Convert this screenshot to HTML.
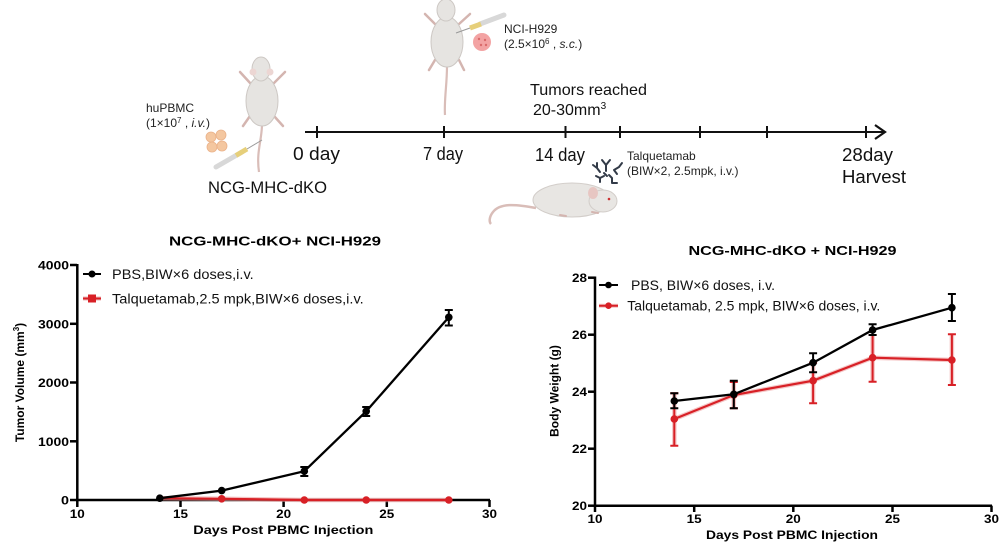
<!DOCTYPE html>
<html><head><meta charset="utf-8"><style>
html,body{margin:0;padding:0;background:#fff;}
svg{display:block;}
text{font-family:"Liberation Sans",Arial,sans-serif;}
.b{font-weight:bold;}
</style></head><body>
<svg width="1003" height="553" viewBox="0 0 1003 553" xmlns="http://www.w3.org/2000/svg">
<rect width="1003" height="553" fill="#fff"/>

<!-- ===== Top schematic ===== -->
<!-- timeline -->
<g stroke="#111" stroke-width="2" fill="none">
<line x1="305" y1="132" x2="884" y2="132"/>
<line x1="317" y1="126" x2="317" y2="138"/>
<line x1="444" y1="126" x2="444" y2="138"/>
<line x1="565.5" y1="126" x2="565.5" y2="138"/>
<line x1="620" y1="126" x2="620" y2="138"/>
<line x1="700" y1="126" x2="700" y2="138"/>
<line x1="767" y1="126" x2="767" y2="138"/>
<line x1="866" y1="126" x2="866" y2="138"/>
<polyline points="875,125 885,132 875,139" stroke-width="2.2"/>
</g>
<text x="293" y="160" font-size="18.5" fill="#111" textLength="47" lengthAdjust="spacingAndGlyphs">0 day</text>
<text x="423" y="160" font-size="18.5" fill="#111" textLength="40" lengthAdjust="spacingAndGlyphs">7 day</text>
<text x="535" y="161" font-size="18.5" fill="#111" textLength="50" lengthAdjust="spacingAndGlyphs">14 day</text>
<text x="842" y="161" font-size="18.5" fill="#111" textLength="51" lengthAdjust="spacingAndGlyphs">28day</text>
<text x="842" y="183" font-size="18.5" fill="#111" textLength="64" lengthAdjust="spacingAndGlyphs">Harvest</text>
<text x="208" y="193" font-size="17" fill="#111" textLength="119" lengthAdjust="spacingAndGlyphs">NCG-MHC-dKO</text>
<text x="530" y="95" font-size="16" fill="#111" textLength="117" lengthAdjust="spacingAndGlyphs">Tumors reached</text>
<text x="533" y="115" font-size="16" fill="#111">20-30mm<tspan font-size="10" dy="-6">3</tspan></text>
<text x="146" y="112" font-size="12" fill="#222">huPBMC</text>
<text x="146" y="127" font-size="12" fill="#222">(1×10<tspan font-size="8" dy="-4">7</tspan><tspan dy="4"> , </tspan><tspan font-style="italic">i.v.</tspan>)</text>
<text x="504" y="33" font-size="12" fill="#222">NCI-H929</text>
<text x="504" y="48" font-size="12" fill="#222">(2.5×10<tspan font-size="8" dy="-4">6</tspan><tspan dy="4"> , </tspan><tspan font-style="italic">s.c.</tspan>)</text>
<text x="627" y="160" font-size="12" fill="#222">Talquetamab</text>
<text x="627" y="175" font-size="12" fill="#222">(BIW×2, 2.5mpk, i.v.)</text>

<!-- Mouse 1 (top view) -->
<g>
<path d="M262,124 C262,140 256,152 259,172" stroke="#d9bdb8" stroke-width="2.2" fill="none"/>
<g stroke="#d4b5b0" stroke-width="2.5" stroke-linecap="round" fill="none">
<line x1="251" y1="84" x2="240" y2="72"/><line x1="273" y1="84" x2="285" y2="72"/>
<line x1="250" y1="116" x2="243" y2="126"/><line x1="274" y1="116" x2="283" y2="126"/>
</g>
<ellipse cx="262" cy="101" rx="16" ry="25" fill="#e6e4e1" stroke="#cdc8c4" stroke-width="1"/>
<ellipse cx="261" cy="69" rx="9" ry="12" fill="#e6e4e1" stroke="#cdc8c4" stroke-width="1"/>
<circle cx="253" cy="72" r="3.5" fill="#ecd6d3"/><circle cx="270" cy="72" r="3.5" fill="#ecd6d3"/>
<!-- syringe -->
<line x1="216" y1="167" x2="242" y2="152" stroke="#d8d8d8" stroke-width="5" stroke-linecap="round"/>
<line x1="236" y1="155.5" x2="247" y2="149" stroke="#e6cf7a" stroke-width="5"/>
<line x1="247" y1="149" x2="262" y2="140" stroke="#999" stroke-width="1"/>
<!-- cells -->
<g fill="#f4c7a0" stroke="#eab28a" stroke-width="0.8">
<circle cx="211" cy="137" r="5"/><circle cx="221" cy="135" r="5"/>
<circle cx="212" cy="147" r="5"/><circle cx="222" cy="146" r="5"/>
</g>
</g>

<!-- Mouse 2 (top view) -->
<g>
<path d="M447,66 C447,85 444,100 445,115" stroke="#d9bdb8" stroke-width="2.2" fill="none"/>
<g stroke="#d4b5b0" stroke-width="2.5" stroke-linecap="round" fill="none">
<line x1="435" y1="24" x2="425" y2="14"/><line x1="459" y1="24" x2="470" y2="14"/>
<line x1="435" y1="60" x2="429" y2="70"/><line x1="459" y1="60" x2="464" y2="70"/>
</g>
<ellipse cx="447" cy="42" rx="16" ry="25" fill="#e6e4e1" stroke="#cdc8c4" stroke-width="1"/>
<ellipse cx="446" cy="10" rx="9" ry="11" fill="#e6e4e1" stroke="#cdc8c4" stroke-width="1"/>
<line x1="480" y1="24" x2="504" y2="15" stroke="#d8d8d8" stroke-width="5" stroke-linecap="round"/>
<line x1="470" y1="28" x2="481" y2="24" stroke="#e6cf7a" stroke-width="5"/>
<line x1="456" y1="33" x2="470" y2="28" stroke="#999" stroke-width="1"/>
<circle cx="482" cy="42" r="9" fill="#f3a3a3"/>
<g fill="#d96a6a"><circle cx="479" cy="39" r="1.2"/><circle cx="485" cy="40" r="1.2"/><circle cx="481" cy="45" r="1.2"/><circle cx="486" cy="45" r="1.2"/></g>
</g>

<!-- Mouse 3 (side view) -->
<g>
<path d="M536,208 C515,204 500,203 493,212 C489,217 489,222 491,224" stroke="#d9bdb8" stroke-width="2.5" fill="none"/>
<ellipse cx="572" cy="200" rx="39" ry="17" fill="#e8e6e3" stroke="#d2cdc9" stroke-width="1"/>
<ellipse cx="603" cy="201" rx="14" ry="11" fill="#e8e6e3" stroke="#d2cdc9" stroke-width="1"/>
<ellipse cx="593" cy="193" rx="5" ry="6" fill="#e7c6c2"/>
<circle cx="609" cy="199" r="1.3" fill="#c33"/>
<g stroke="#d4b5b0" stroke-width="2" stroke-linecap="round"><line x1="560" y1="215" x2="566" y2="216"/><line x1="592" y1="212" x2="598" y2="213"/></g>
</g>
<!-- antibodies -->
<g stroke="#333b48" stroke-width="2" fill="none" stroke-linecap="round">
<path d="M606,165 L606,171 M606,165 L602,160 M606,165 L610,160"/>
<path d="M597,168 L600,172 M597,168 L593,165 M597,168 L597,163"/>
<path d="M614,170 L619,167 M614,170 L617,174 M619,167 L622,163"/>
<path d="M600,178 L604,176 M600,178 L596,176 M600,178 L600,182"/>
<path d="M612,178 L612,183 M612,178 L609,175 M612,183 L617,183"/>
<path d="M604,173 L607,176"/>
</g>

<!-- ===== Left chart ===== -->
<text x="275" y="245.5" font-size="13" class="b" text-anchor="middle" textLength="212" lengthAdjust="spacingAndGlyphs" fill="#000">NCG-MHC-dKO+ NCI-H929</text>
<g stroke="#000" stroke-width="2.5" fill="none">
<line x1="77.3" y1="264" x2="77.3" y2="501.2"/>
<line x1="76" y1="500" x2="490" y2="500"/>
<line x1="70" y1="265" x2="77" y2="265"/>
<line x1="70" y1="323.8" x2="77" y2="323.8"/>
<line x1="70" y1="382.5" x2="77" y2="382.5"/>
<line x1="70" y1="441.3" x2="77" y2="441.3"/>
<line x1="70" y1="500" x2="77" y2="500"/>
<line x1="77.3" y1="500" x2="77.3" y2="507"/>
<line x1="180.5" y1="500" x2="180.5" y2="507"/>
<line x1="283.6" y1="500" x2="283.6" y2="507"/>
<line x1="386.8" y1="500" x2="386.8" y2="507"/>
<line x1="489.5" y1="500" x2="489.5" y2="507"/>
</g>
<g font-size="11.5" class="b" text-anchor="end" fill="#000">
<text x="69" y="269.5" textLength="31" lengthAdjust="spacingAndGlyphs">4000</text>
<text x="69" y="328.3" textLength="31" lengthAdjust="spacingAndGlyphs">3000</text>
<text x="69" y="387" textLength="31" lengthAdjust="spacingAndGlyphs">2000</text>
<text x="69" y="445.8" textLength="31" lengthAdjust="spacingAndGlyphs">1000</text>
<text x="69" y="504.5" textLength="8" lengthAdjust="spacingAndGlyphs">0</text>
</g>
<g font-size="11.5" class="b" text-anchor="middle" fill="#000">
<text x="77.3" y="518" textLength="15" lengthAdjust="spacingAndGlyphs">10</text>
<text x="180.5" y="518" textLength="15" lengthAdjust="spacingAndGlyphs">15</text>
<text x="283.6" y="518" textLength="15" lengthAdjust="spacingAndGlyphs">20</text>
<text x="386.8" y="518" textLength="15" lengthAdjust="spacingAndGlyphs">25</text>
<text x="489.5" y="518" textLength="15" lengthAdjust="spacingAndGlyphs">30</text>
</g>
<text x="283.3" y="534" font-size="12" class="b" text-anchor="middle" textLength="180" lengthAdjust="spacingAndGlyphs" fill="#000">Days Post PBMC Injection</text>
<text transform="translate(24,382.5) rotate(-90)" font-size="12" class="b" text-anchor="middle" fill="#000">Tumor Volume (mm<tspan font-size="8" dy="-5">3</tspan><tspan dy="5">)</tspan></text>
<!-- legend -->
<line x1="83" y1="274" x2="101" y2="274" stroke="#000" stroke-width="2"/>
<circle cx="92" cy="274" r="3.5" fill="#000"/>
<text x="112" y="279" font-size="13.5" textLength="141.7" lengthAdjust="spacingAndGlyphs" fill="#111">PBS,BIW×6 doses,i.v.</text>
<line x1="83" y1="298.5" x2="101" y2="298.5" stroke="#e08a8a" stroke-width="4" opacity="0.6"/>
<line x1="83" y1="298.5" x2="101" y2="298.5" stroke="#d82026" stroke-width="2"/>
<rect x="88" y="294.5" width="8" height="8" fill="#d82026"/>
<text x="112" y="303.5" font-size="13.5" textLength="251.7" lengthAdjust="spacingAndGlyphs" fill="#111">Talquetamab,2.5 mpk,BIW×6 doses,i.v.</text>
<!-- red series -->
<polyline points="159.8,498.2 221.7,498.8 304.3,500 366.2,500 448.8,500" stroke="#ec9a9a" stroke-width="4.5" fill="none" opacity="0.6"/>
<polyline points="159.8,498.2 221.7,498.8 304.3,500 366.2,500 448.8,500" stroke="#d82026" stroke-width="2.2" fill="none"/>
<g fill="#d82026">
<circle cx="221.7" cy="498.8" r="3.8"/><circle cx="304.3" cy="500" r="3.8"/><circle cx="366.2" cy="500" r="3.8"/><circle cx="448.8" cy="500" r="3.8"/>
</g>
<!-- black series -->
<polyline points="159.8,498.2 221.7,490.6 304.3,471.2 366.2,411.3 448.8,317.3" stroke="#000" stroke-width="2.3" fill="none"/>
<g stroke="#000" stroke-width="2" fill="none">
<path d="M300.3,467 H308.3 M304.3,467 V476 M300.3,476 H308.3"/>
<path d="M362.2,407 H370.2 M366.2,407 V416 M362.2,416 H370.2"/>
<path d="M444.8,310 H452.8 M448.8,310 V325.5 M444.8,325.5 H452.8"/>
</g>
<g fill="#000">
<circle cx="159.8" cy="498.2" r="3.8"/><circle cx="221.7" cy="490.6" r="3.8"/><circle cx="304.3" cy="471.2" r="3.8"/><circle cx="366.2" cy="411.3" r="3.8"/><circle cx="448.8" cy="317.3" r="3.8"/>
</g>

<!-- ===== Right chart ===== -->
<text x="792.5" y="255" font-size="13" class="b" text-anchor="middle" textLength="208" lengthAdjust="spacingAndGlyphs" fill="#000">NCG-MHC-dKO + NCI-H929</text>
<g stroke="#000" stroke-width="2.5" fill="none">
<line x1="595" y1="276.5" x2="595" y2="506.9"/>
<line x1="594" y1="505.7" x2="992" y2="505.7"/>
<line x1="588" y1="277.7" x2="595" y2="277.7"/>
<line x1="588" y1="334.7" x2="595" y2="334.7"/>
<line x1="588" y1="391.7" x2="595" y2="391.7"/>
<line x1="588" y1="448.7" x2="595" y2="448.7"/>
<line x1="588" y1="505.7" x2="595" y2="505.7"/>
<line x1="595" y1="505.7" x2="595" y2="512"/>
<line x1="694.2" y1="505.7" x2="694.2" y2="512"/>
<line x1="793.3" y1="505.7" x2="793.3" y2="512"/>
<line x1="892.5" y1="505.7" x2="892.5" y2="512"/>
<line x1="991.5" y1="505.7" x2="991.5" y2="512"/>
</g>
<g font-size="11.5" class="b" text-anchor="end" fill="#000">
<text x="587" y="282" textLength="15" lengthAdjust="spacingAndGlyphs">28</text>
<text x="587" y="339" textLength="15" lengthAdjust="spacingAndGlyphs">26</text>
<text x="587" y="396" textLength="15" lengthAdjust="spacingAndGlyphs">24</text>
<text x="587" y="453" textLength="15" lengthAdjust="spacingAndGlyphs">22</text>
<text x="587" y="510" textLength="15" lengthAdjust="spacingAndGlyphs">20</text>
</g>
<g font-size="11.5" class="b" text-anchor="middle" fill="#000">
<text x="595" y="523" textLength="15" lengthAdjust="spacingAndGlyphs">10</text>
<text x="694.2" y="523" textLength="15" lengthAdjust="spacingAndGlyphs">15</text>
<text x="793.3" y="523" textLength="15" lengthAdjust="spacingAndGlyphs">20</text>
<text x="892.5" y="523" textLength="15" lengthAdjust="spacingAndGlyphs">25</text>
<text x="991.5" y="523" textLength="15" lengthAdjust="spacingAndGlyphs">30</text>
</g>
<text x="792" y="539" font-size="12" class="b" text-anchor="middle" textLength="172" lengthAdjust="spacingAndGlyphs" fill="#000">Days Post PBMC Injection</text>
<text transform="translate(558.5,391) rotate(-90)" font-size="12" class="b" text-anchor="middle" fill="#000">Body Weight (g)</text>
<!-- legend -->
<line x1="599" y1="285" x2="618" y2="285" stroke="#000" stroke-width="2"/>
<circle cx="608.5" cy="285" r="3.3" fill="#000"/>
<text x="631" y="290" font-size="13.5" textLength="144" lengthAdjust="spacingAndGlyphs" fill="#111">PBS, BIW×6 doses, i.v.</text>
<line x1="599" y1="305.7" x2="618" y2="305.7" stroke="#ec9a9a" stroke-width="4" opacity="0.6"/>
<line x1="599" y1="305.7" x2="618" y2="305.7" stroke="#d82026" stroke-width="2"/>
<circle cx="608.5" cy="305.7" r="3.3" fill="#d82026"/>
<text x="627.3" y="310.5" font-size="13.5" textLength="253" lengthAdjust="spacingAndGlyphs" fill="#111">Talquetamab, 2.5 mpk, BIW×6 doses, i.v.</text>
<!-- red series -->
<g stroke="#ec9a9a" stroke-width="4.5" fill="none" opacity="0.55">
<polyline points="674.3,419 733.8,395 813.1,380.7 872.6,357.7 951.9,360"/>
<path d="M674.3,393.3 V445.7 M733.8,382 V408.3 M813.1,362.7 V403.3 M872.6,335 V381.7 M951.9,334.3 V385"/>
</g>
<g stroke="#d82026" stroke-width="2" fill="none">
<polyline points="674.3,419 733.8,395 813.1,380.7 872.6,357.7 951.9,360" stroke-width="2.2"/>
<path d="M670.3,393.3 H678.3 M674.3,393.3 V445.7 M670.3,445.7 H678.3"/>
<path d="M729.8,382 H737.8 M733.8,382 V408.3 M729.8,408.3 H737.8"/>
<path d="M809.1,362.7 H817.1 M813.1,362.7 V403.3 M809.1,403.3 H817.1"/>
<path d="M868.6,335 H876.6 M872.6,335 V381.7 M868.6,381.7 H876.6"/>
<path d="M947.9,334.3 H955.9 M951.9,334.3 V385 M947.9,385 H955.9"/>
</g>
<g fill="#d82026">
<circle cx="674.3" cy="419" r="3.8"/><circle cx="733.8" cy="395" r="3.8"/><circle cx="813.1" cy="380.7" r="3.8"/><circle cx="872.6" cy="357.7" r="3.8"/><circle cx="951.9" cy="360" r="3.8"/>
</g>
<!-- black series -->
<g stroke="#000" stroke-width="2" fill="none">
<polyline points="674.3,401 733.8,394.3 813.1,362.7 872.6,330 951.9,307.7" stroke-width="2.3"/>
<path d="M670.3,393.3 H678.3 M674.3,393.3 V408.3 M670.3,408.3 H678.3"/>
<path d="M729.8,380.7 H737.8 M733.8,380.7 V408.3 M729.8,408.3 H737.8"/>
<path d="M809.1,353.3 H817.1 M813.1,353.3 V372.3 M809.1,372.3 H817.1"/>
<path d="M868.6,324.3 H876.6 M872.6,324.3 V335 M868.6,335 H876.6"/>
<path d="M947.9,294 H955.9 M951.9,294 V321 M947.9,321 H955.9"/>
</g>
<g fill="#000">
<circle cx="674.3" cy="401" r="3.8"/><circle cx="733.8" cy="394.3" r="3.8"/><circle cx="813.1" cy="362.7" r="3.8"/><circle cx="872.6" cy="330" r="3.8"/><circle cx="951.9" cy="307.7" r="3.8"/>
</g>
</svg>
</body></html>
